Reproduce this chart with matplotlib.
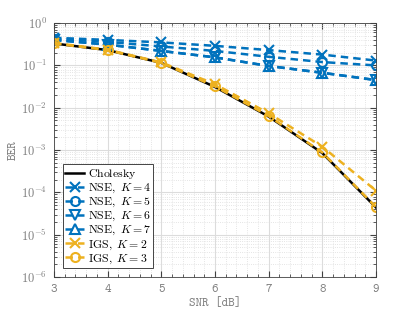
import os
import matplotlib
matplotlib.use("Agg")
import matplotlib.pyplot as plt
from matplotlib import font_manager
from matplotlib.ticker import FixedLocator, LogLocator, NullFormatter
import numpy as np

plt.rcParams['mathtext.fontset'] = 'cm'
tt_path = os.path.join(matplotlib.get_data_path(), 'fonts', 'ttf', 'cmtt10.ttf')
if os.path.exists(tt_path):
    font_manager.fontManager.addfont(tt_path)
    ttfam = font_manager.FontProperties(fname=tt_path).get_name()
else:
    ttfam = 'Liberation Mono'

snr = [3, 4, 5, 6, 7, 8, 9]
ber_chol = [0.33, 0.23, 0.115, 0.031, 0.0062, 8.5e-4, 4.4e-5]
ber_nse4 = [0.45, 0.40, 0.35, 0.29, 0.23, 0.18, 0.13]
ber_nse5 = [0.43, 0.36, 0.28, 0.22, 0.16, 0.12, 0.10]
ber_nse6 = [0.40, 0.31, 0.22, 0.155, 0.097, 0.067, 0.045]
ber_nse7 = [0.40, 0.31, 0.22, 0.155, 0.097, 0.067, 0.045]
ber_igs2 = [0.34, 0.235, 0.118, 0.036, 0.0074, 1.2e-3, 1.1e-4]
ber_igs3 = [0.33, 0.23, 0.115, 0.032, 0.0064, 8.8e-4, 4.5e-5]

blue = '#0072BD'
yellow = '#EDB120'
gray = '#808080'

fig = plt.figure(figsize=(4.15, 3.12), dpi=100)
ax = fig.add_axes([0.130, 0.112, 0.776, 0.814])

lw = 1.8
ms = 6.5
mew = 1.5
ax.plot(snr, ber_chol, color='black', lw=lw, label=r'$\mathrm{Cholesky}$')
series = [
    (ber_nse4, blue, 'x', r'$\mathrm{NSE},\ K=4$'),
    (ber_nse5, blue, 'o', r'$\mathrm{NSE},\ K=5$'),
    (ber_nse6, blue, 'v', r'$\mathrm{NSE},\ K=6$'),
    (ber_nse7, blue, '^', r'$\mathrm{NSE},\ K=7$'),
    (ber_igs2, yellow, 'x', r'$\mathrm{IGS},\ K=2$'),
    (ber_igs3, yellow, 'o', r'$\mathrm{IGS},\ K=3$'),
]
for vals, c, m, lab in series:
    ax.plot(snr, vals, color=c, lw=lw, ls=(0, (3, 2)), marker=m, ms=ms,
            mfc='none', mec=c, mew=mew, label=lab)

ax.set_yscale('log')
ax.set_xlim(3, 9)
ax.set_ylim(1e-6, 1)
ax.xaxis.set_major_locator(FixedLocator(snr))
ax.set_xticklabels([str(v) for v in snr], family=ttfam)
ax.yaxis.set_major_locator(FixedLocator([10.0**k for k in range(-6, 1)]))
ax.set_yticklabels([r'$\mathtt{10}^{\mathtt{%d}}$' % k for k in range(-6, 1)])
ax.yaxis.set_minor_locator(LogLocator(base=10, subs=np.arange(2, 10), numticks=20))
ax.yaxis.set_minor_formatter(NullFormatter())
ax.xaxis.set_minor_locator(FixedLocator(np.arange(3, 9.01, 0.2)))

ax.grid(True, which='major', color='#dcdcdc', lw=0.8)
ax.grid(True, which='minor', color='#dcdcdc', lw=0.6, ls=':')
ax.set_axisbelow(True)
ax.tick_params(which='both', direction='in', top=True, right=True,
               colors='#404040', labelcolor=gray, labelsize=9)
ax.tick_params(axis='x', which='minor', length=0)
ax.tick_params(which='major', length=4, pad=5)
ax.tick_params(which='minor', length=2)
for s in ax.spines.values():
    s.set_color('#404040')
    s.set_linewidth(0.6)

ax.set_xlabel('SNR [dB]', color=gray, fontsize=9, family=ttfam, labelpad=2)
ax.set_ylabel('BER', color=gray, fontsize=9, family=ttfam, labelpad=2)

leg = ax.legend(loc='lower left', bbox_to_anchor=(0.028, 0.035), fontsize=8.5,
                handlelength=1.6, handletextpad=0.3, labelspacing=0.0,
                borderpad=0.2, fancybox=False, framealpha=1,
                edgecolor='#262626', borderaxespad=0)
leg.get_frame().set_linewidth(0.6)

fig.savefig('out.png', dpi=100)
